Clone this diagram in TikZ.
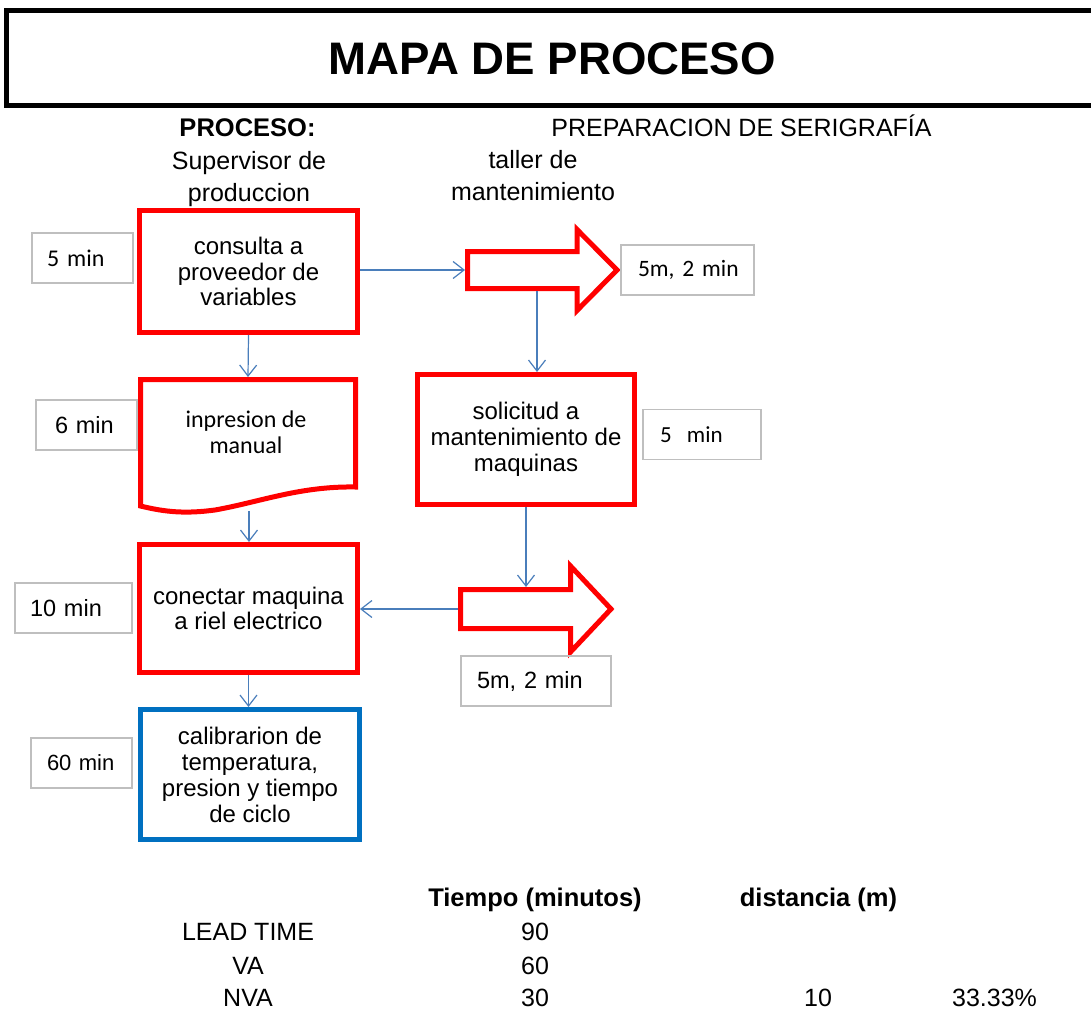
\documentclass[tikz,border=0pt]{standalone}
\usepackage{fontspec}
\setmainfont{Liberation Sans}
\newfontfamily\calfont{Carlito}
\usetikzlibrary{arrows.meta}
\definecolor{procred}{RGB}{255,0,0}
\definecolor{procblue}{RGB}{0,112,192}
\definecolor{linkblue}{RGB}{74,126,187}
\definecolor{tagrey}{RGB}{191,191,191}

\begin{document}
\begin{tikzpicture}[x=1pt,y=-1pt,
  stepbox/.style={draw=procred, line width=5pt, fill=white, minimum width=218pt,
    minimum height=122pt, align=center, inner sep=0pt,
    font=\fontsize{24}{25.5}\selectfont},
  timebox/.style={draw=tagrey, line width=1.3pt, minimum height=50pt, inner ysep=0pt,
    align=left, font=\fontsize{23.5}{26}\selectfont},
  link/.style={draw=linkblue, line width=1.2pt, -{Straight Barb[length=11pt,width=17pt]}},
  blockarrow/.style={draw=procred, line width=5pt, fill=white, line join=miter},
  label/.style={inner sep=0pt, align=center, font=\fontsize{25}{32}\selectfont},
  boldlabel/.style={label, font=\bfseries\fontsize{25.5}{32}\selectfont}
]
\useasboundingbox (0,0) rectangle (1091,1011);
\fill[white] (0,0) rectangle (1091,1011);

% title banner
\draw[line width=5pt] (6.5,11) rectangle (1100,105.5);
\node[label, anchor=base, font=\bfseries\fontsize{45.6}{50}\selectfont] (title) at (552,75) {MAPA DE PROCESO};

% headings
\node[boldlabel, anchor=base] (proc) at (247.5,137) {PROCESO:};
\node[label, anchor=base] (procname) at (741.5,137) {PREPARACION DE SERIGRAFÍA};
\node[label] (colsup) at (249,179) {Supervisor de\\produccion};
\node[label] (coltal) at (533,176) {taller de\\mantenimiento};

% left column of steps
\node[stepbox] (consulta) at (248.5,271.5) {consulta a\\proveedor de\\variables};

\draw[draw=procred, line width=5pt, fill=white, line join=miter]
  (140.5,506) -- (140.5,379.5) -- (355.5,379.5) -- (355.5,487)
  .. controls (300,486) and (260,502) .. (215,510)
  .. controls (185,514) and (165,512) .. (140.5,506) -- cycle;
\node[label, font=\calfont\fontsize{24}{26}\selectfont] (manual) at (246,432) {inpresion de\\manual};
\coordinate (docTop) at (248,377);
\coordinate (docBot) at (249,511);

\node[stepbox, minimum height=128pt] (conectar) at (248.5,608.5) {conectar maquina\\a riel electrico};
\node[stepbox, draw=procblue, minimum width=219pt, minimum height=130pt,
  font=\fontsize{24}{26}\selectfont] (calib) at (250,774.5)
  {calibrarion de\\temperatura,\\presion y tiempo\\de ciclo};

% right column
\node[stepbox, minimum width=217pt, minimum height=130pt, font=\fontsize{24}{26}\selectfont]
  (solicitud) at (526,439.5) {solicitud a\\mantenimiento de\\maquinas};

\draw[blockarrow] (467.5,251.5) -- (577,251.5) -- (577,229.5) -- (617,270)
  -- (577,310.5) -- (577,288.5) -- (467.5,288.5) -- cycle;
\coordinate (a1w) at (465,270);
\coordinate (a1s) at (537,291);

\draw[blockarrow] (460.5,589.5) -- (570.5,589.5) -- (570.5,566) -- (611,609)
  -- (570.5,652) -- (570.5,628.5) -- (460.5,628.5) -- cycle;
\coordinate (a2n) at (525,587);
\coordinate (a2w) at (458,609);

% time tags
\node[timebox, font=\calfont\fontsize{24}{26}\selectfont, text width=71pt, inner xsep=15pt] (t1) at (82.5,258) {5 min};
\node[timebox, text width=63pt, inner xsep=19pt] (t2) at (86.5,425) {6 min};
\node[timebox, text width=87pt, inner xsep=15pt] (t3) at (73.5,608) {10 min};
\node[timebox, font=\fontsize{22}{26}\selectfont, text width=69pt, inner xsep=16pt] (t4) at (81.5,763) {60 min};
\node[timebox, font=\calfont\fontsize{23.5}{26}\selectfont, text width=99pt, inner xsep=17pt] (t5) at (687.5,270) {\mbox{5m, 2 min}};
\node[timebox, font=\calfont\fontsize{23}{26}\selectfont, text width=84pt, inner xsep=17pt] (t6) at (702,434.5) {\mbox{5\ \ min}};
\node[timebox, text width=118pt, inner xsep=16pt] (t7) at (536,681) {5m, 2 min};

% connectors
\draw[link] (consulta.south) -- (docTop);
\draw[link] (docBot) -- (docBot |- conectar.north);
\draw[link] (conectar.south) -- (conectar.south |- calib.north);
\draw[link] (consulta.east |- a1w) -- (a1w);
\draw[link] (a1s) -- (a1s |- solicitud.north);
\draw[link] (solicitud.south) -- (solicitud.south |- a2n);
\draw[link] (a2w) -- (conectar.east |- a2w);

% summary table
\begin{scope}[every node/.style={label, anchor=base}]
\node[boldlabel, anchor=base] (hT) at (535,906) {Tiempo (minutos)};
\node[boldlabel, anchor=base] (hD) at (818.5,906) {distancia (m)};
\node (rLT) at (248,940) {LEAD TIME};
\node (rVA) at (248,974) {VA};
\node (rNVA) at (248,1006) {NVA};
\node (vLT) at (535,940) {90};
\node (vVA) at (535,974) {60};
\node (vNVA) at (535,1006) {30};
\node (dNVA) at (818,1006) {10};
\node (pNVA) at (994.5,1006) {33.33\%};
\end{scope}
\end{tikzpicture}
\end{document}
